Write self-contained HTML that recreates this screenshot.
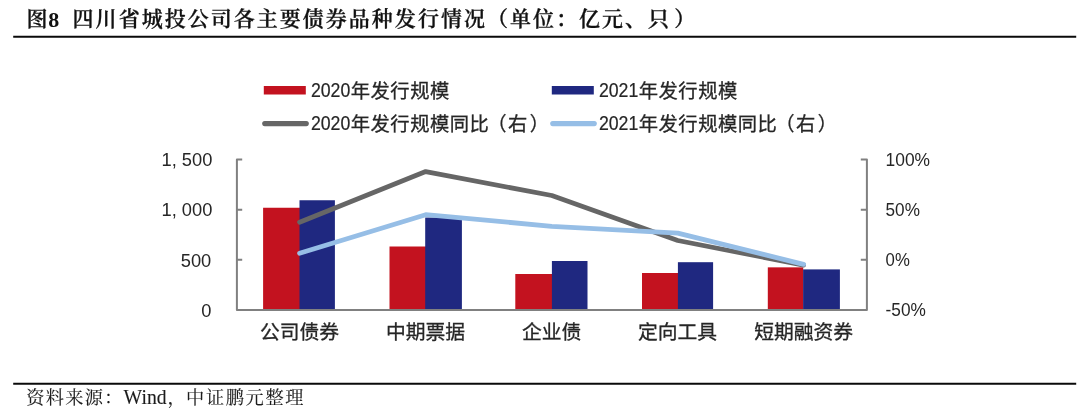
<!DOCTYPE html>
<html lang="zh-CN">
<head>
<meta charset="utf-8">
<title>图8 四川省城投公司各主要债券品种发行情况</title>
<style>
  html, body { margin: 0; padding: 0; background: #fff; }
  body { width: 1080px; height: 412px; position: relative; overflow: hidden; }
  .ttl { font-family: "Liberation Serif", "Noto Serif CJK SC", serif; font-weight: 600; fill: #111; stroke: #111; stroke-width: 0.3px; }
  .ttl .d { font-weight: 700; stroke: none; }
  .src { font-family: "Liberation Serif", "Noto Serif CJK SC", serif; fill: #1c1c1c; stroke: #1c1c1c; stroke-width: 0.12px; }
  svg { position: absolute; left: 0; top: 0; }
  svg text { fill: #262626; white-space: pre; }
  .cjk { font-family: "Liberation Sans", "Noto Sans CJK SC", sans-serif; stroke: #262626; stroke-width: 0.3px; }
  .cjk .num { stroke-width: 0.2px; }
  .num { font-family: "Liberation Sans", sans-serif; }
</style>
</head>
<body>
<svg width="1080" height="412" viewBox="0 0 1080 412">
  <!-- bars -->
  <g fill="#c3121f">
    <rect x="263.1" y="207.75" width="37.7" height="102.25"/>
    <rect x="389.5" y="246.5" width="37" height="63.5"/>
    <rect x="515.3" y="274" width="37.9" height="36"/>
    <rect x="642" y="273" width="37.2" height="37"/>
    <rect x="767.8" y="267.35" width="35.4" height="42.65"/>
  </g>
  <g fill="#1f2880">
    <rect x="299.5" y="200.25" width="35.4" height="109.75"/>
    <rect x="425.2" y="217.5" width="36.7" height="92.5"/>
    <rect x="551.9" y="261" width="35.6" height="49"/>
    <rect x="677.9" y="262.2" width="35.2" height="47.8"/>
    <rect x="803.1" y="269.4" width="36.8" height="40.6"/>
  </g>
  <!-- axes -->
  <g stroke="#808080" stroke-width="2" fill="none" stroke-linejoin="round">
    <path d="M242.2 159.55 H236.9 V310 H866.9 V159.55 H860.8"/>
    <path d="M236.9 209.7 h5.3 M236.9 259.85 h5.3"/>
    <path d="M866.9 209.7 h-6.1 M866.9 259.85 h-6.1"/>
  </g>
  <!-- lines -->
  <polyline points="299.6,222.2 425.7,171.6 551.8,195.5 677.8,240.5 803.6,265.1" fill="none" stroke="#666666" stroke-width="4.8" stroke-linecap="round" stroke-linejoin="round"/>
  <polyline points="299.6,253.2 425.7,214.7 551.8,226.3 677.8,233.2 803.6,264.3" fill="none" stroke="#96bee6" stroke-width="4.8" stroke-linecap="round" stroke-linejoin="round"/>
  <!-- legend -->
  <rect x="263.8" y="86" width="42" height="8.5" fill="#c3121f"/>
  <rect x="551.8" y="86" width="42" height="8.5" fill="#1f2880"/>
  <line x1="264.7" y1="123.6" x2="306.3" y2="123.6" stroke="#666666" stroke-width="5.1" stroke-linecap="round"/>
  <line x1="552.7" y1="123.6" x2="594.3" y2="123.6" stroke="#96bee6" stroke-width="5.1" stroke-linecap="round"/>
  <g class="cjk" font-size="19.3" letter-spacing="0.5">
    <text y="98.0"><tspan class="num" letter-spacing="0" x="310.9" dy="-1" font-size="19.3" textLength="39.4" lengthAdjust="spacingAndGlyphs">2020</tspan><tspan x="350.8" dy="1">年发行规模</tspan></text>
    <text y="98.0"><tspan class="num" letter-spacing="0" x="598.9" dy="-1" font-size="19.3" textLength="39.4" lengthAdjust="spacingAndGlyphs">2021</tspan><tspan x="638.8" dy="1">年发行规模</tspan></text>
    <text y="131"><tspan class="num" letter-spacing="0" x="310.9" dy="-1" font-size="19.3" textLength="39.4" lengthAdjust="spacingAndGlyphs">2020</tspan><tspan x="350.8" dy="1">年发行规模同比<tspan dx="-2">（</tspan><tspan dx="1">右</tspan><tspan dx="2">）</tspan></tspan></text>
    <text y="131"><tspan class="num" letter-spacing="0" x="598.9" dy="-1" font-size="19.3" textLength="39.4" lengthAdjust="spacingAndGlyphs">2021</tspan><tspan x="638.8" dy="1">年发行规模同比<tspan dx="-2">（</tspan><tspan dx="1">右</tspan><tspan dx="2">）</tspan></tspan></text>
  </g>
  <!-- left axis labels -->
  <g class="num" font-size="18.3" text-anchor="end">
    <text x="212.3" y="166.2">1, 500</text>
    <text x="212.3" y="216.3">1, 000</text>
    <text x="211.3" y="266.5">500</text>
    <text x="211.3" y="316.6">0</text>
  </g>
  <!-- right axis labels -->
  <g class="num" font-size="19.2">
    <text x="885.6" y="166.3" textLength="44.5" lengthAdjust="spacingAndGlyphs">100%</text>
    <text x="885.6" y="216.3" textLength="34.3" lengthAdjust="spacingAndGlyphs">50%</text>
    <text x="885.6" y="266.3" textLength="24.2" lengthAdjust="spacingAndGlyphs">0%</text>
    <text x="885.6" y="316.3" textLength="40.3" lengthAdjust="spacingAndGlyphs">-50%</text>
  </g>
  <!-- category labels -->
  <g class="cjk" font-size="19.8" text-anchor="middle">
    <text x="299.6" y="339">公司债券</text>
    <text x="425.6" y="339">中期票据</text>
    <text x="551.6" y="339">企业债</text>
    <text x="677.6" y="339">定向工具</text>
    <text x="803.6" y="339">短期融资券</text>
  </g>
  <!-- title, rules and source note -->
  <g stroke="#0a0a0a" stroke-width="2">
    <line x1="13.2" y1="36.7" x2="1076.2" y2="36.7"/>
    <line x1="13.2" y1="383.75" x2="1076.2" y2="383.75"/>
  </g>
  <text class="ttl" y="25.9" font-size="21" letter-spacing="2.02"><tspan x="26.6">图</tspan><tspan class="d" x="48.3" dy="1.2" font-size="22" letter-spacing="0">8</tspan><tspan x="72.6" dy="-1.2">四川省城投公司各主要债券品种发行情况（单位：亿元、只</tspan><tspan dx="3">）</tspan></text>
  <text class="src" y="403.8" font-size="18.2" letter-spacing="1.3"><tspan x="26.3">资料来源：</tspan><tspan x="123.6" font-size="20.4" letter-spacing="0" textLength="43" lengthAdjust="spacingAndGlyphs">Wind</tspan><tspan x="167.6" letter-spacing="1.65">，</tspan><tspan x="186.1" letter-spacing="1.65">中证鹏元整理</tspan></text>
</svg>

</body>
</html>
